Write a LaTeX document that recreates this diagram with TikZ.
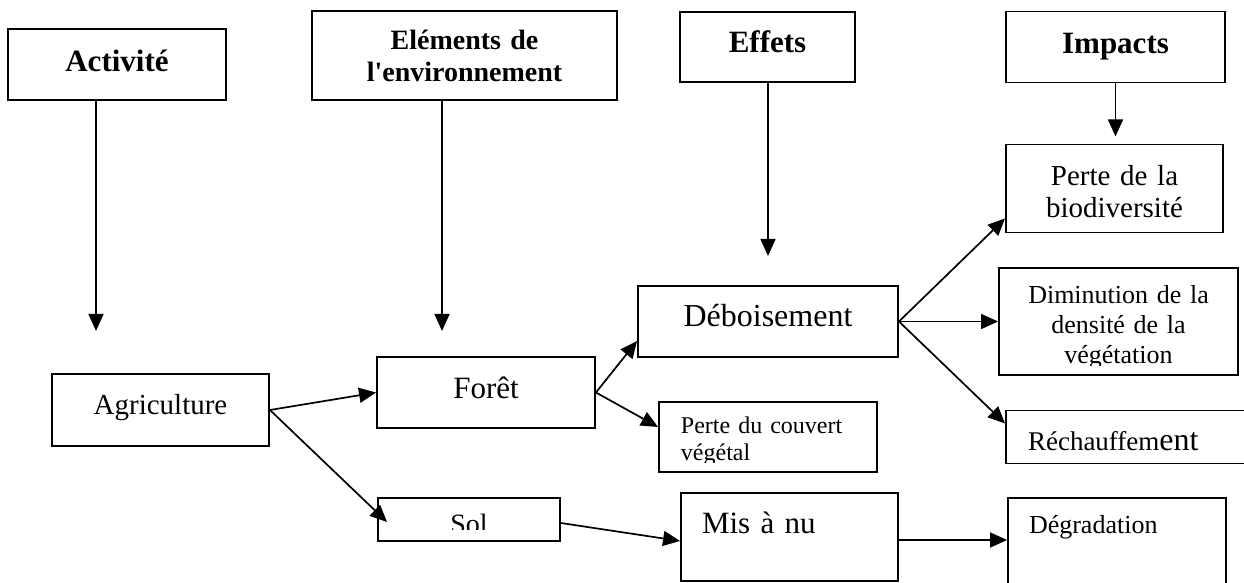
\documentclass[tikz,border=0pt]{standalone}
\usepackage{fontspec}
\setmainfont{Liberation Serif}
\usetikzlibrary{arrows.meta}

\tikzset{
  rect/.style={draw,line width=1.9pt,rectangle,inner sep=0pt},
  head/.style={rect,font=\fontsize{31pt}{34pt}\selectfont\bfseries},
  inbox/.style={draw=none,inner sep=0pt,minimum width=0pt,minimum height=0pt},
  link/.style={line width=1.7pt,-{Triangle[length=17pt,width=15pt]}},
}

\begin{document}
\begin{tikzpicture}[node distance=300pt]

\useasboundingbox (0,0) rectangle (1244pt,-583pt);
\clip (0,0) rectangle (1244pt,-583pt);

\node[head,minimum width=218pt,minimum height=71pt,text height=27.5pt,text depth=12.5pt] (act) at (117pt,-64.5pt) {Activité};
\node[head,font=\fontsize{28pt}{32pt}\selectfont\bfseries,minimum width=305pt,minimum height=89pt,text width=290pt,align=center,text height=14.5pt,text depth=25.5pt,xshift=47.5pt,yshift=9pt,right of=act] (elem) {Eléments de\\l\textquotesingle environnement};
\node[head,minimum width=175pt,minimum height=70pt,text height=26pt,text depth=14pt,xshift=3pt,yshift=8.5pt,right of=elem] (eff) {Effets};
\node[head,minimum width=219pt,minimum height=71pt,text height=26.5pt,text depth=13.5pt,xshift=48pt,right of=eff] (imp) {Impacts};
\node[rect,font=\fontsize{29pt}{32pt}\selectfont,minimum width=217pt,minimum height=88pt,text width=205pt,align=center,text height=17pt,text depth=23pt,node distance=141.5pt,xshift=-1pt,below of=imp] (bio) {Perte de la\\biodiversité};

\node[rect,font=\fontsize{29pt}{32pt}\selectfont,minimum width=217pt,minimum height=72pt,text height=24pt,text depth=16pt,xshift=43.5pt,yshift=-45.5pt,below of=act] (agri) {Agriculture};
\node[rect,font=\fontsize{31pt}{34pt}\selectfont,minimum width=218pt,minimum height=71pt,text height=25.5pt,text depth=14.5pt,xshift=25.5pt,yshift=17.5pt,right of=agri] (foret) {Forêt};
\node[rect,minimum width=182pt,minimum height=43pt,xshift=8.5pt,yshift=-109.5pt,right of=agri,
  path picture={
    \clip (path picture bounding box.north west) rectangle ([yshift=11.5pt]path picture bounding box.south east);
    \node[inbox,anchor=base,font=\fontsize{28pt}{30pt}\selectfont] at ([yshift=-14pt]path picture bounding box.center) {Sol};
  }] (sol) {};

\node[rect,font=\fontsize{32pt}{35pt}\selectfont,minimum width=260pt,minimum height=71pt,text height=25pt,text depth=15pt,xshift=-18pt,yshift=71pt,right of=foret] (debois) {Déboisement};
\node[rect,minimum width=218pt,minimum height=70pt,xshift=-18pt,yshift=-44.5pt,right of=foret,
  path picture={
    \clip (path picture bounding box.north west) rectangle ([yshift=10pt]path picture bounding box.south east);
    \node[inbox,anchor=base west,text width=176pt,align=left,font=\fontsize{24pt}{27pt}\selectfont] at ([xshift=-88pt,yshift=4pt]path picture bounding box.center) {Perte du couvert\\végétal};
  }] (couvert) {};
\node[rect,font=\fontsize{31pt}{34pt}\selectfont,minimum width=217pt,minimum height=88pt,text width=175pt,align=left,text height=16pt,text depth=24pt,xshift=20.5pt,yshift=-17.5pt,right of=sol] (misnu) {Mis à nu};

\node[rect,minimum width=239pt,minimum height=107pt,xshift=50.5pt,right of=debois,
  path picture={
    \clip (path picture bounding box.north west) rectangle ([yshift=10pt]path picture bounding box.south east);
    \node[inbox,anchor=base,text width=225pt,align=center,font=\fontsize{26pt}{30pt}\selectfont] at ([yshift=18.5pt]path picture bounding box.center) {Diminution de la\\densité de la\\végétation};
  }] (dimin) {};
\node[rect,font=\fontsize{27pt}{30pt}\selectfont,minimum width=254pt,minimum height=53pt,text width=210pt,align=left,text height=33.5pt,text depth=6.5pt,xshift=65pt,right of=couvert] (rechauf) {Réchauffem{\fontsize{32pt}{34pt}\selectfont ent}};
\node[rect,font=\fontsize{26pt}{30pt}\selectfont,minimum width=218pt,minimum height=102pt,text width=176pt,align=left,text height=4pt,text depth=36pt,xshift=27.5pt,yshift=-12pt,right of=misnu] (degr) {Dégradation};

\coordinate (actend) at ([xshift=-21pt,yshift=-230pt]act.south);
\coordinate (elemend) at ([xshift=-22.5pt,yshift=-230pt]elem.south);
\coordinate (effend) at ([xshift=0.5pt,yshift=-173pt]eff.south);
\coordinate (impend) at ([yshift=-53pt]imp.south);

\draw[link] (act.south -| actend) -- (actend);
\draw[link] (elem.south -| elemend) -- (elemend);
\draw[link] (eff.south -| effend) -- (effend);
\draw[link] (imp.south -| impend) -- (impend);

\draw[link] (agri.east) -- (foret.west);
\draw[link] (agri.east) -- ([xshift=10pt,yshift=-2.5pt]sol.west);
\draw[link] (foret.east) -- ([yshift=17pt]debois.south west);
\draw[link] (foret.east) -- ([yshift=10pt]couvert.west);
\draw[link] (debois.east) -- ([yshift=15pt]bio.south west);
\draw[link] (debois.east) -- (dimin.west);
\draw[link] (debois.east) -- ([yshift=13.5pt]rechauf.west);
\draw[link] ([yshift=-3.5pt]sol.east) -- ([yshift=-4pt]misnu.west);
\draw[link] ([yshift=-3pt]misnu.east) -- ([yshift=-3pt]misnu.east -| degr.west);

\end{tikzpicture}
\end{document}
